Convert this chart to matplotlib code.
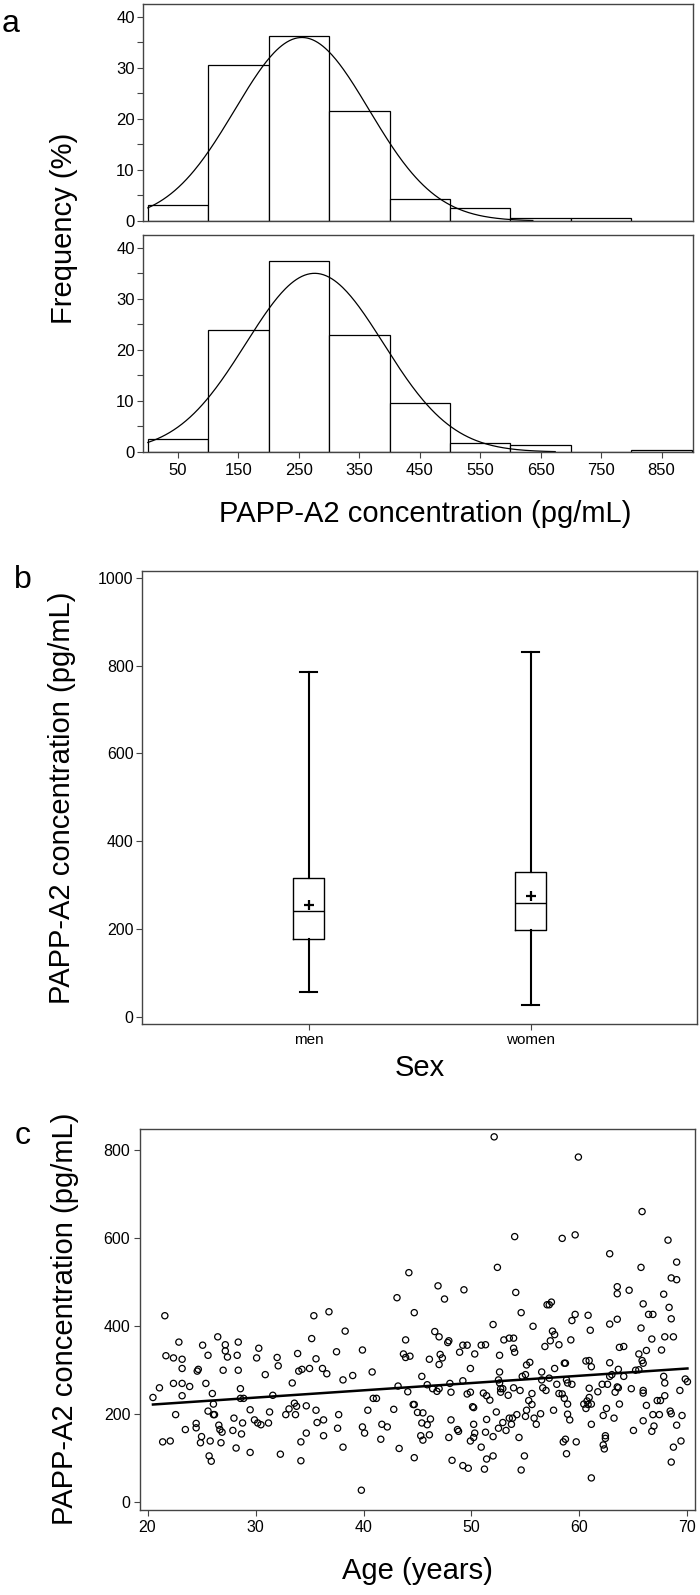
import numpy as np
import matplotlib
matplotlib.use("Agg")
import matplotlib.pyplot as plt
from matplotlib.ticker import MultipleLocator

plt.rcParams['font.family'] = ['Liberation Sans', 'DejaVu Sans']

# ---- panel a: histograms (percent per 100 pg/mL bin) ----
bin_edges = [0, 100, 200, 300, 400, 500, 600, 700, 800, 900]
men_freq = [3.2, 30.6, 36.3, 21.6, 4.4, 2.6, 0.5, 0.5, 0.0]
women_freq = [2.6, 23.9, 37.5, 23.0, 9.5, 1.8, 1.3, 0.0, 0.4]
# fitted normal curves (mean, sd, where the drawn curve stops)
men_fit = (255, 111, 637)
women_fit = (276, 114, 674)
hist_ticks = [50, 150, 250, 350, 450, 550, 650, 750, 850]

# ---- panel b: box plot summaries ----
sex_labels = ['men', 'women']
box_low = [57, 26]
box_q1 = [178, 197]
box_med = [240, 259]
box_q3 = [315, 330]
box_high = [786, 831]
box_mean = [254, 276]

# ---- panel c: age vs concentration ----
age = [20.5, 21.1, 21.6, 21.7, 21.4, 22.1, 22.4, 22.4, 22.6, 22.9, 23.2, 23.2, 23.2, 23.2,
       23.5, 23.9, 24.5, 24.5, 24.6, 24.7, 24.9, 25.0, 25.1, 25.4, 25.6, 25.6, 25.7, 25.8,
       25.9, 26.0, 26.1, 26.1, 26.2, 26.5, 26.6, 26.7, 26.8, 26.9, 27.0, 27.2, 27.2, 27.4,
       28.0, 27.9, 28.2, 28.3, 28.4, 28.4, 28.6, 28.6, 28.8, 28.7, 28.9, 29.5, 29.5, 29.9,
       30.1, 30.3, 30.2, 30.5, 30.9, 31.3, 31.2, 31.6, 32.0, 32.1, 32.3, 32.8, 33.1, 33.4,
       33.6, 33.7, 33.8, 33.9, 34.0, 34.2, 34.2, 34.3, 34.7, 34.7, 35.0, 35.2, 35.4, 35.6,
       35.6, 35.7, 36.2, 36.3, 36.3, 36.6, 36.8, 37.5, 37.7, 37.6, 38.1, 38.1, 38.3,
       52.1, 59.9, 65.8, 54.0, 58.4, 59.6, 68.2, 62.8, 52.4, 65.7, 69.0, 44.2, 68.5, 69.0,
       46.9, 49.3, 43.1, 47.5, 54.1, 63.5, 63.5, 64.6, 67.8, 65.9, 68.3, 57.0, 57.2, 57.4,
       44.7, 54.6, 66.4, 66.8, 59.6, 60.8, 59.3, 68.5, 62.8, 63.5, 52.0, 55.7, 61.0, 65.7,
       46.6, 47.0, 57.5, 57.7, 57.3, 58.1, 56.8, 53.0, 53.5, 53.9, 59.2, 43.9, 47.8, 47.9,
       49.2, 49.6, 50.9, 51.3, 50.3, 48.9, 53.9, 54.0, 52.6, 63.7, 64.1, 66.7, 67.9, 68.7,
       67.6, 66.2, 65.5, 43.7, 43.9, 44.3, 47.1, 47.3, 47.0, 46.1, 49.9, 52.6, 55.1, 55.4,
       56.5, 57.7, 58.6, 58.7, 60.6, 60.9, 61.1, 62.8, 65.8, 65.9, 65.2, 65.5, 63.6,
       39.0, 40.8, 45.4, 43.2, 44.1, 45.9, 46.4, 46.8, 47.0, 48.0, 48.1, 49.2, 49.6, 49.9,
       50.1, 50.2, 51.1, 51.4, 51.7, 52.5, 52.6, 52.7, 52.9, 52.7, 53.4, 53.9, 54.5, 54.7,
       55.0, 55.6, 55.3, 55.6, 56.5, 56.6, 56.9, 57.2, 57.9, 58.1, 58.4, 58.8, 58.9, 59.3,
       58.6, 58.9, 60.4, 60.7, 60.8, 61.1, 60.9, 60.9, 60.6, 61.7, 62.1, 62.6, 62.8, 63.0,
       63.5, 63.6, 63.3, 63.7, 64.1, 64.8, 65.9, 65.9, 66.2, 67.2, 67.5, 67.9, 67.8, 67.9,
       69.3, 69.8, 70.0,
       39.9, 40.1, 40.4, 40.9, 41.2, 41.7, 42.2, 41.6, 42.8, 43.3, 44.6, 44.7, 44.7, 45.0,
       45.4, 45.5, 45.9, 46.2, 45.3, 45.5, 46.1, 48.1, 47.9, 48.2, 48.7, 48.8, 49.2, 49.7,
       50.2, 49.9, 50.2, 50.3, 50.9, 51.4, 51.3, 51.4, 51.2, 52.0, 52.0, 52.3, 52.5, 52.9,
       53.2, 53.5, 53.8, 53.7, 54.2, 54.4, 54.9, 54.6, 55.0, 55.1, 55.8, 56.0, 56.4, 57.6,
       58.5, 58.7, 58.8, 58.9, 59.1, 59.7, 61.1, 61.1, 62.2, 62.3, 62.4, 62.4, 62.2, 63.2,
       62.5, 65.0, 65.9, 66.8, 66.9, 66.7, 67.4, 68.4, 68.5, 69.0, 69.5, 68.7, 69.4, 68.5,
       39.9, 39.8]
conc = [238, 260, 424, 333, 137, 139, 328, 270, 199, 364, 325, 304, 270, 242,
        165, 263, 179, 169, 298, 302, 135, 149, 357, 270, 334, 207, 105, 139,
        93, 247, 223, 199, 199, 376, 175, 165, 135, 159, 300, 358, 344, 330,
        191, 163, 123, 334, 364, 300, 258, 236, 180, 155, 236, 210, 113, 187,
        328, 350, 180, 176, 290, 205, 180, 243, 329, 310, 109, 199, 212, 271,
        225, 199, 218, 338, 298, 137, 94, 302, 157, 219, 304, 372, 424, 209,
        326, 181, 304, 187, 151, 292, 433, 342, 199, 168, 125, 278, 389,
        831, 785, 661, 604, 600, 608, 596, 565, 534, 534, 546, 522, 510, 506,
        492, 483, 465, 462, 477, 490, 474, 482, 473, 451, 443, 449, 449, 455,
        431, 431, 427, 427, 427, 425, 413, 417, 405, 416, 404, 400, 391, 396,
        388, 376, 389, 381, 367, 358, 354, 369, 373, 373, 369, 369, 363, 367,
        357, 357, 357, 358, 337, 341, 350, 341, 334, 352, 354, 371, 376, 376,
        346, 345, 337, 337, 329, 332, 336, 328, 313, 325, 304, 296, 312, 318,
        296, 304, 316, 316, 321, 322, 308, 317, 322, 316, 300, 301, 302,
        288, 296, 286, 264, 251, 267, 258, 252, 258, 270, 250, 276, 246, 250,
        217, 215, 248, 242, 232, 278, 271, 258, 258, 250, 243, 260, 254, 286,
        290, 247, 231, 222, 278, 260, 254, 282, 268, 247, 246, 278, 271, 268,
        236, 223, 223, 230, 222, 223, 259, 238, 213, 251, 268, 268, 286, 290,
        262, 260, 250, 223, 286, 258, 254, 248, 220, 231, 231, 242, 286, 271,
        254, 280, 274,
        171, 157, 209, 236, 236, 177, 171, 143, 211, 122, 222, 222, 101, 204,
        180, 203, 176, 189, 151, 141, 153, 187, 147, 95, 165, 161, 83, 77,
        177, 139, 147, 157, 125, 188, 159, 98, 75, 149, 105, 205, 168, 181,
        163, 191, 191, 177, 199, 147, 105, 73, 195, 209, 191, 177, 201, 209,
        137, 143, 110, 200, 187, 137, 177, 55, 130, 121, 151, 145, 197, 191,
        213, 163, 185, 199, 173, 161, 199, 207, 201, 175, 197, 125, 139, 91,
        346, 27]
fit_age = [20.5, 70.0]
fit_conc = [222, 304]

W, H = 700, 1595
fig = plt.figure(figsize=(W / 100, H / 100), dpi=100)


def box(l, t, r, b):
    return [l / W, 1 - b / H, (r - l) / W, (b - t) / H]


spine_col = '#444444'
narrow = ['Liberation Sans Narrow', 'Liberation Sans', 'DejaVu Sans']
big = 21


def style(ax, lw=1.0):
    for s in ax.spines.values():
        s.set_color(spine_col)
        s.set_linewidth(lw)


# ---------- panel a ----------
ax_top = fig.add_axes(box(143, 4, 693, 221))
ax_bot = fig.add_axes(box(143, 235, 693, 452))
for ax, freq, (mu, sd, end) in [(ax_top, men_freq, men_fit), (ax_bot, women_freq, women_fit)]:
    ax.bar(bin_edges[:-1], freq, width=100, align='edge', color='white',
           edgecolor='black', linewidth=0.9)
    xs = np.linspace(0, end, 300)
    curve = 100 * 100 / (sd * np.sqrt(2 * np.pi)) * np.exp(-(xs - mu) ** 2 / (2 * sd ** 2))
    ax.plot(xs, curve, color='black', lw=0.9)
    ax.set_xlim(-8, 902)
    ax.set_ylim(0, 42.5)
    ax.yaxis.set_major_locator(MultipleLocator(10))
    ax.yaxis.set_minor_locator(MultipleLocator(5))
    ax.tick_params(axis='y', which='both', length=4, width=0.8, colors=spine_col,
                   labelcolor='black', labelsize=12, pad=2)
    for lab in ax.get_yticklabels():
        lab.set_family(narrow)
    style(ax)
ax_top.set_xticks([])
ax_bot.set_xticks(hist_ticks)
ax_bot.tick_params(axis='x', length=4, width=0.8, colors=spine_col,
                   labelcolor='black', labelsize=12, pad=4)
for lab in ax_bot.get_xticklabels():
    lab.set_family(narrow)

fig.text(64 / W, 1 - 228 / H, 'Frequency (%)', rotation=90, fontsize=big,
         ha='center', va='center')
fig.text(425 / W, 1 - 514 / H, 'PAPP-A2 concentration (pg/mL)', fontsize=big,
         ha='center', va='center')
fig.text(2 / W, 1 - 24 / H, 'a', fontsize=big + 2, ha='left', va='center')

# ---------- panel b ----------
ax_b = fig.add_axes(box(142, 571, 697, 1023.6))
stats = []
for i in range(2):
    stats.append(dict(label=sex_labels[i], whislo=box_low[i], q1=box_q1[i],
                      med=box_med[i], q3=box_q3[i], whishi=box_high[i],
                      mean=box_mean[i], fliers=[]))
ax_b.bxp(stats, positions=[1, 2], widths=0.137, capwidths=0.075, showmeans=True,
         boxprops=dict(color='black', linewidth=1.0),
         medianprops=dict(color='black', linewidth=1.0),
         whiskerprops=dict(color='black', linewidth=1.5),
         capprops=dict(color='black', linewidth=1.5),
         meanprops=dict(marker='+', markeredgecolor='black', markersize=7,
                        markeredgewidth=1.6))
ax_b.set_xlim(0.25, 2.75)
ax_b.set_ylim(-16, 1016)
ax_b.set_yticks([0, 200, 400, 600, 800, 1000])
ax_b.tick_params(axis='y', length=4, width=0.8, colors=spine_col,
                 labelcolor='black', labelsize=11.5, pad=2)
ax_b.tick_params(axis='x', length=4, width=0.8, colors=spine_col,
                 labelcolor='black', labelsize=11, pad=3)
for lab in ax_b.get_yticklabels() + ax_b.get_xticklabels():
    lab.set_family(narrow)
style(ax_b)
fig.text(62 / W, 1 - 798 / H, 'PAPP-A2 concentration (pg/mL)', rotation=90,
         fontsize=big, ha='center', va='center')
fig.text(420 / W, 1 - 1068 / H, 'Sex', fontsize=big, ha='center', va='center')
fig.text(14 / W, 1 - 580 / H, 'b', fontsize=big + 2, ha='left', va='center')

# ---------- panel c ----------
ax_c = fig.add_axes(box(140, 1128.5, 695, 1510))
ax_c.scatter(age, conc, s=20, facecolors='none', edgecolors='black', linewidths=0.9)
ax_c.plot(fit_age, fit_conc, color='black', lw=1.8)
ax_c.set_xlim(19.3, 70.7)
ax_c.set_ylim(-18, 850)
ax_c.set_xticks([20, 30, 40, 50, 60, 70])
ax_c.set_yticks([0, 200, 400, 600, 800])
ax_c.tick_params(length=4, width=0.8, colors=spine_col, labelcolor='black',
                 labelsize=11.5, pad=3)
style(ax_c)
fig.text(65 / W, 1 - 1319 / H, 'PAPP-A2 concentration (pg/mL)', rotation=90,
         fontsize=big, ha='center', va='center')
fig.text(417 / W, 1 - 1571 / H, 'Age (years)', fontsize=big, ha='center', va='center')
fig.text(15 / W, 1 - 1136 / H, 'c', fontsize=big + 2, ha='left', va='center')

fig.savefig('out.png', dpi=100)
